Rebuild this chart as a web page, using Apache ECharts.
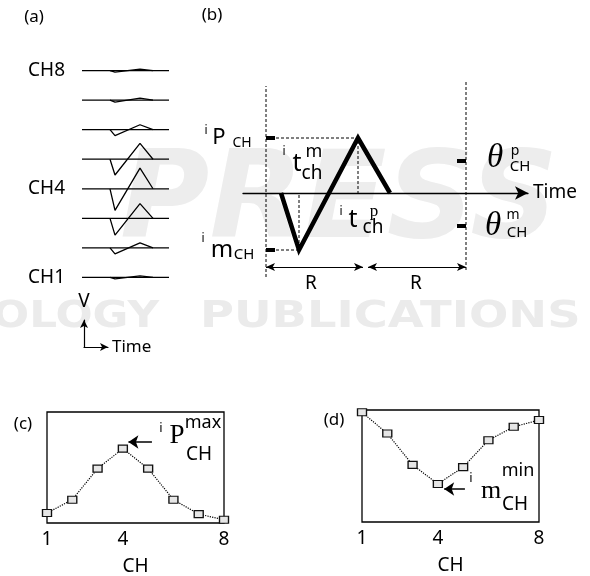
<!DOCTYPE html>
<html>
<head>
<meta charset="utf-8">
<script src="https://cdn.jsdelivr.net/npm/echarts@6/dist/echarts.min.js"></script>
<style>
  html, body { margin: 0; padding: 0; background: #fff; }
  #chart { width: 590px; height: 576px; }
</style>
</head>
<body>
<div id="chart"></div>
<script>
// (a) raw traces, one per channel
const channels = [1, 2, 3, 4, 5, 6, 7, 8]
const channelLabels = ['CH1', '', '', 'CH4', '', '', '', 'CH8']
const dipAmp = [1.5, 6, 17, 22, 16, 6, 2, 1.5]
const peakAmp = [1.5, 5, 15, 21, 16, 5, 2, 1.5]
const waveTime = [28, 33, 58, 71] // start, min, max, back to zero
const traceLength = 87

// (b) template
const bWaveTime = [38, 56, 115, 147]
const bWaveV = [0, -57, 55, 0]
const bWindow = [23, 223]
const bWinLow = [-84, -77]
const bWinHigh = [107, 111]
const thetaLevels = [32, -33]
const rLevel = -74

// (c) / (d)
const chTicks = [1, 4, 8]
const pMax = [0.09, 0.21, 0.49, 0.67, 0.49, 0.21, 0.08, 0.03]
const mMin = [0.98, 0.79, 0.51, 0.34, 0.49, 0.73, 0.85, 0.91]

const chart = echarts.init(document.getElementById('chart'))
const FONT = 'Noto Sans'
const SERIF = 'Liberation Serif'

function txt(s, x, y, size, family, fstyle, fill) {
  return {
    type: 'text', x: x, y: y, z: 10,
    style: {
      text: s, fontSize: size, fontFamily: family || FONT, fontStyle: fstyle || 'normal',
      fill: fill || '#000', textAlign: 'center', textVerticalAlign: 'middle'
    }
  }
}

const thin = { color: '#000', width: 1.3 }
const dash = { color: '#000', width: 1, type: [3, 2] }
const hidden = { show: false }

function plainAxis(gridIndex, min, max, extra) {
  return Object.assign({
    type: 'value', gridIndex: gridIndex, min: min, max: max,
    axisLine: hidden, axisTick: hidden, axisLabel: hidden, splitLine: hidden
  }, extra || {})
}

const series = []

// ---- (a)
channels.forEach((ch, i) => {
  const base = ch * 30
  series.push({
    type: 'line', xAxisIndex: 0, yAxisIndex: 0, symbol: 'none', silent: true,
    lineStyle: thin, data: [[0, base], [traceLength, base]]
  })
  series.push({
    type: 'line', xAxisIndex: 0, yAxisIndex: 0, symbol: 'none', silent: true,
    lineStyle: thin,
    data: [[waveTime[0], base], [waveTime[1], base - dipAmp[i]],
           [waveTime[2], base + peakAmp[i]], [waveTime[3], base]]
  })
})

// ---- (b)
const peakI = bWaveV.indexOf(Math.max(...bWaveV))
const dipI = bWaveV.indexOf(Math.min(...bWaveV))
bWindow.forEach((x, i) => {
  series.push({
    type: 'line', xAxisIndex: 1, yAxisIndex: 1, symbol: 'none', silent: true, clip: false,
    lineStyle: dash, data: [[x, bWinLow[i]], [x, bWinHigh[i]]]
  })
})
series.push({
  type: 'line', xAxisIndex: 1, yAxisIndex: 1, symbol: 'none', silent: true,
  lineStyle: dash,
  data: [[bWindow[0], bWaveV[peakI]], [bWaveTime[peakI], bWaveV[peakI]], [bWaveTime[peakI], 0]]
})
series.push({
  type: 'line', xAxisIndex: 1, yAxisIndex: 1, symbol: 'none', silent: true,
  lineStyle: dash,
  data: [[bWindow[0], bWaveV[dipI]], [bWaveTime[dipI], bWaveV[dipI]], [bWaveTime[dipI], 0]]
})
series.push({
  type: 'line', xAxisIndex: 1, yAxisIndex: 1, symbol: 'none', silent: true,
  lineStyle: { color: '#000', width: 4.5, join: 'miter', cap: 'butt', miterLimit: 20 },
  data: bWaveTime.map((t, i) => [t, bWaveV[i]])
})
// thick level ticks on both window edges
;[bWaveV[peakI], bWaveV[dipI]].forEach(v => {
  series.push({
    type: 'line', xAxisIndex: 1, yAxisIndex: 1, symbol: 'none', silent: true,
    lineStyle: { color: '#000', width: 4 }, data: [[bWindow[0], v], [bWindow[0] + 9, v]]
  })
})
thetaLevels.forEach(v => {
  series.push({
    type: 'line', xAxisIndex: 1, yAxisIndex: 1, symbol: 'none', silent: true,
    lineStyle: { color: '#000', width: 4 }, data: [[bWindow[1] - 9, v], [bWindow[1], v]]
  })
})
// R arrows
const rMid = bWaveTime[peakI]
series.push({
  type: 'line', xAxisIndex: 1, yAxisIndex: 1, symbol: 'none', silent: true, data: [],
  markLine: {
    silent: true, symbol: ['arrow', 'arrow'], symbolSize: [6, 9],
    lineStyle: { color: '#000', width: 1, type: 'solid' }, label: hidden,
    data: [
      [{ coord: [bWindow[0], rLevel] }, { coord: [rMid + 5, rLevel] }],
      [{ coord: [rMid + 10, rLevel] }, { coord: [bWindow[1], rLevel] }]
    ]
  }
})

// ---- (c) and (d)
function chSeries(idx, values, arrowDy, arrowX) {
  const best = arrowDy > 0 ? values.indexOf(Math.max(...values)) : values.indexOf(Math.min(...values))
  const yA = values[best] + arrowDy
  return {
    type: 'line', xAxisIndex: idx, yAxisIndex: idx, silent: true, clip: false,
    data: channels.map((c, i) => [c, values[i]]),
    lineStyle: { color: '#000', width: 1.2, type: 'dotted' },
    symbol: 'rect', symbolSize: [9, 7],
    itemStyle: { color: '#e6e6e6', borderColor: '#111', borderWidth: 1.2 },
    markLine: {
      silent: true, symbol: ['none', 'arrow'], symbolSize: [10, 10],
      lineStyle: { color: '#000', width: 1.5, type: 'solid' }, label: hidden,
      data: [[{ coord: [channels[best] + arrowX[0], yA] }, { coord: [channels[best] + arrowX[1], yA] }]]
    }
  }
}
series.push(chSeries(2, pMax, 0.06, [1.15, 0.22]))
series.push(chSeries(3, mMin, -0.045, [1.07, 0.25]))

const chAxis = (gridIndex) => ({
  type: 'value', gridIndex: gridIndex, min: 1, max: 8, interval: 1,
  axisLine: hidden, axisTick: hidden, splitLine: hidden,
  axisLabel: {
    margin: 7, fontSize: 19, fontFamily: FONT, color: '#000',
    formatter: v => chTicks.includes(v) ? String(v) : ''
  },
  name: 'CH', nameLocation: 'middle', nameGap: 34,
  nameTextStyle: { fontSize: 19, fontFamily: FONT, color: '#000' }
})

const arrowAxis = {
  show: true, symbol: ['none', 'arrow'], symbolSize: [6, 8],
  lineStyle: { color: '#000', width: 1.2 }
}

const option = {
  backgroundColor: '#fff',
  animation: false,
  grid: [
    { left: 82, top: 41, width: 87, height: 266, outerBoundsMode: 'none' },
    { left: 243, top: 81, width: 285, height: 196, outerBoundsMode: 'none' },
    { left: 47, top: 412, width: 177, height: 111, show: true, borderColor: '#000', borderWidth: 1.3, backgroundColor: 'transparent', outerBoundsMode: 'none' },
    { left: 362, top: 410, width: 177, height: 112, show: true, borderColor: '#000', borderWidth: 1.3, backgroundColor: 'transparent', outerBoundsMode: 'none' },
    { left: 84, top: 320, width: 24, height: 27, outerBoundsMode: 'none' }
  ],
  xAxis: [
    plainAxis(0, 0, traceLength),
    plainAxis(1, 0, 285, {
      axisLine: { show: true, onZero: true, symbol: ['none', 'arrow'], symbolSize: [10, 13],
        lineStyle: { color: '#000', width: 1.3 } },
      name: 'Time', nameLocation: 'end', nameGap: 5,
      nameTextStyle: { fontSize: 19, fontFamily: FONT, color: '#000' }
    }),
    chAxis(2),
    chAxis(3),
    plainAxis(4, 0, 1, {
      axisLine: arrowAxis, name: 'Time', nameLocation: 'end', nameGap: 4,
      nameTextStyle: { fontSize: 17, fontFamily: FONT, color: '#000' }
    })
  ],
  yAxis: [
    plainAxis(0, 0, 270, {
      interval: 30,
      axisLabel: {
        show: true, margin: 17, fontSize: 19, fontFamily: FONT, color: '#000',
        formatter: v => channelLabels[v / 30 - 1] || ''
      }
    }),
    plainAxis(1, -84, 112),
    plainAxis(2, 0, 1),
    plainAxis(3, 0, 1),
    plainAxis(4, 0, 1, {
      axisLine: arrowAxis, name: 'V', nameLocation: 'end', nameGap: 9,
      nameTextStyle: { fontSize: 19, fontFamily: FONT, color: '#000' }
    })
  ],
  series: series,
  graphic: [
    // faint publisher watermark
    { type: 'text', x: 120, y: 205, z: -10, silent: true,
      style: { text: 'PRESS', fontSize: 122, fontWeight: 'bold', fontStyle: 'italic', fontFamily: 'DejaVu Sans',
        fill: '#ededed', textAlign: 'left', textVerticalAlign: 'middle' } },
    { type: 'text', x: -8, y: 317, z: -10, silent: true, scaleX: 1.15,
      style: { text: 'OLOGY', fontSize: 38, fontWeight: 'bold', fontFamily: 'DejaVu Sans',
        fill: '#ebebeb', textAlign: 'left', textVerticalAlign: 'middle' } },
    { type: 'text', x: 200, y: 317, z: -10, silent: true, scaleX: 1.22,
      style: { text: 'PUBLICATIONS', fontSize: 38, fontWeight: 'bold', fontFamily: 'DejaVu Sans',
        fill: '#ebebeb', textAlign: 'left', textVerticalAlign: 'middle' } },

    txt('(a)', 34, 17, 17),
    txt('(b)', 212, 15, 17),
    txt('(c)', 23, 424, 17),
    txt('(d)', 334, 420, 17),

    // (b) annotations
    txt('i', 206, 131, 12), txt('P', 219, 138, 22), txt('CH', 242, 143, 14),
    txt('i', 284, 152, 12), txt('t', 297, 164, 25), txt('m', 314, 152, 18), txt('ch', 312, 174, 19),
    txt('i', 341, 212, 12), txt('t', 353, 220, 25), txt('p', 374, 212, 17, SERIF), txt('ch', 373, 228, 19),
    txt('i', 203, 239, 12), txt('m', 222, 250, 24), txt('CH', 244, 255, 15),
    txt('\u03b8', 495, 158, 33, SERIF, 'italic'), txt('p', 515, 151, 14), txt('CH', 520, 167, 15),
    txt('\u03b8', 493, 226, 33, SERIF, 'italic'), txt('m', 513, 215, 14), txt('CH', 517, 233, 15),
    txt('R', 311, 284, 19), txt('R', 416, 284, 19),

    // (c) / (d) annotations
    txt('i', 161, 428, 13), txt('P', 177, 436, 27, SERIF), txt('max', 203, 423, 18), txt('CH', 199, 455, 19),
    txt('i', 471, 478, 13), txt('m', 491, 491, 26, SERIF), txt('min', 518, 471, 18), txt('CH', 515, 505, 19)
  ]
}

chart.setOption(option)
</script>
</body>
</html>
